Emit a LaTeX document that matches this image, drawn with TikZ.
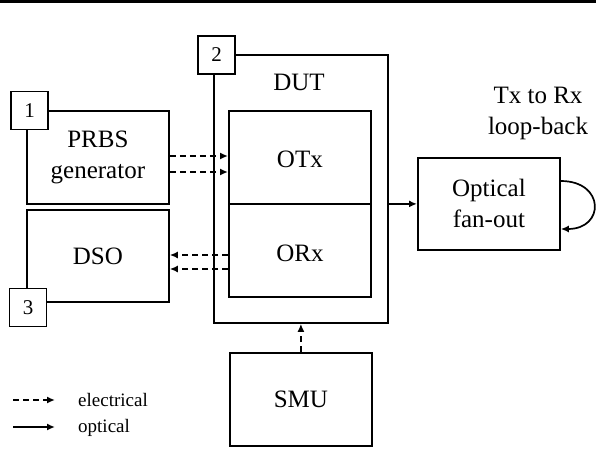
\documentclass[tikz,border=0pt]{standalone}
\usepackage{fontspec}
\setmainfont{Liberation Serif}
\usetikzlibrary{arrows.meta}
\begin{document}
\begin{tikzpicture}[x=1pt,y=-1pt,
  blk/.style={draw,line width=1.8pt,inner sep=0pt,anchor=north west,font=\fontsize{25}{31}\selectfont,align=center},
  numbox/.style={draw,fill=white,line width=1.8pt,inner sep=0pt,minimum width=37pt,minimum height=38pt,font=\fontsize{21}{25}\selectfont},
  lbl/.style={font=\fontsize{25}{31}\selectfont,align=center,inner sep=0pt},
  leg/.style={font=\fontsize{19}{23}\selectfont,anchor=base west,inner sep=0pt},
  tip/.style={-{Latex[length=8pt,width=7pt]}},
  elec/.style={tip,line width=1.7pt,dash pattern=on 6pt off 4pt},
  opt/.style={tip,line width=1.7pt}
]
\useasboundingbox (0,0) rectangle (596,457);
\fill (0,0) rectangle (596,3);

% blocks
\node[blk,minimum width=142pt,minimum height=93pt] (prbs) at (26,110) {PRBS\\generator};
\node[blk,minimum width=142pt,minimum height=92pt] (dso) at (26,209) {DSO};
\node[blk,minimum width=174pt,minimum height=268pt] (dut) at (213,54) {};
\node[lbl,anchor=base] (duttext) at (299,91) {DUT};
\node[blk,minimum width=142pt,minimum height=93pt,text height=20pt,text depth=0pt] (otx) at (228,110) {OTx};
\node[blk,minimum width=142pt,minimum height=93pt,text height=22pt,text depth=0pt] (orx) at (228,203) {ORx};
\node[blk,minimum width=142pt,minimum height=92pt] (fan) at (417,157) {Optical\\fan-out};
\node[blk,minimum width=142pt,minimum height=93pt] (smu) at (229,352) {SMU};
\node[lbl] (loop) at (538,113) {Tx to Rx\\loop-back};

% number tags
\node[numbox] (n1) at (29.5,110.5) {1};
\node[numbox] (n2) at (216.5,55) {2};
\node[numbox] (n3) at (28,307.5) {3};

% connectors
\draw[elec] (prbs.east |- 0,156) -- (otx.west |- 0,156);
\draw[elec] (prbs.east |- 0,172) -- (otx.west |- 0,172);
\draw[elec] (orx.west |- 0,255) -- (dso.east |- 0,255);
\draw[elec] (orx.west |- 0,269) -- (dso.east |- 0,269);
\draw[opt] (dut.east |- fan.west) -- (fan.west);
\draw[opt] (fan.east |- 0,181) .. controls (605,181) and (605,229) .. (fan.east |- 0,229);
\draw[elec] (smu.north) -- (smu.north |- dut.south);

% legend
\coordinate (e1) at (13,400);
\coordinate (e2) at (55,400);
\coordinate (o1) at (13,427);
\coordinate (o2) at (55,427);
\draw[elec] (e1) -- (e2);
\draw[opt] (o1) -- (o2);
\node[leg] (le) at (78,406) {electrical};
\node[leg] (lo) at (78,432) {optical};
\end{tikzpicture}
\end{document}
